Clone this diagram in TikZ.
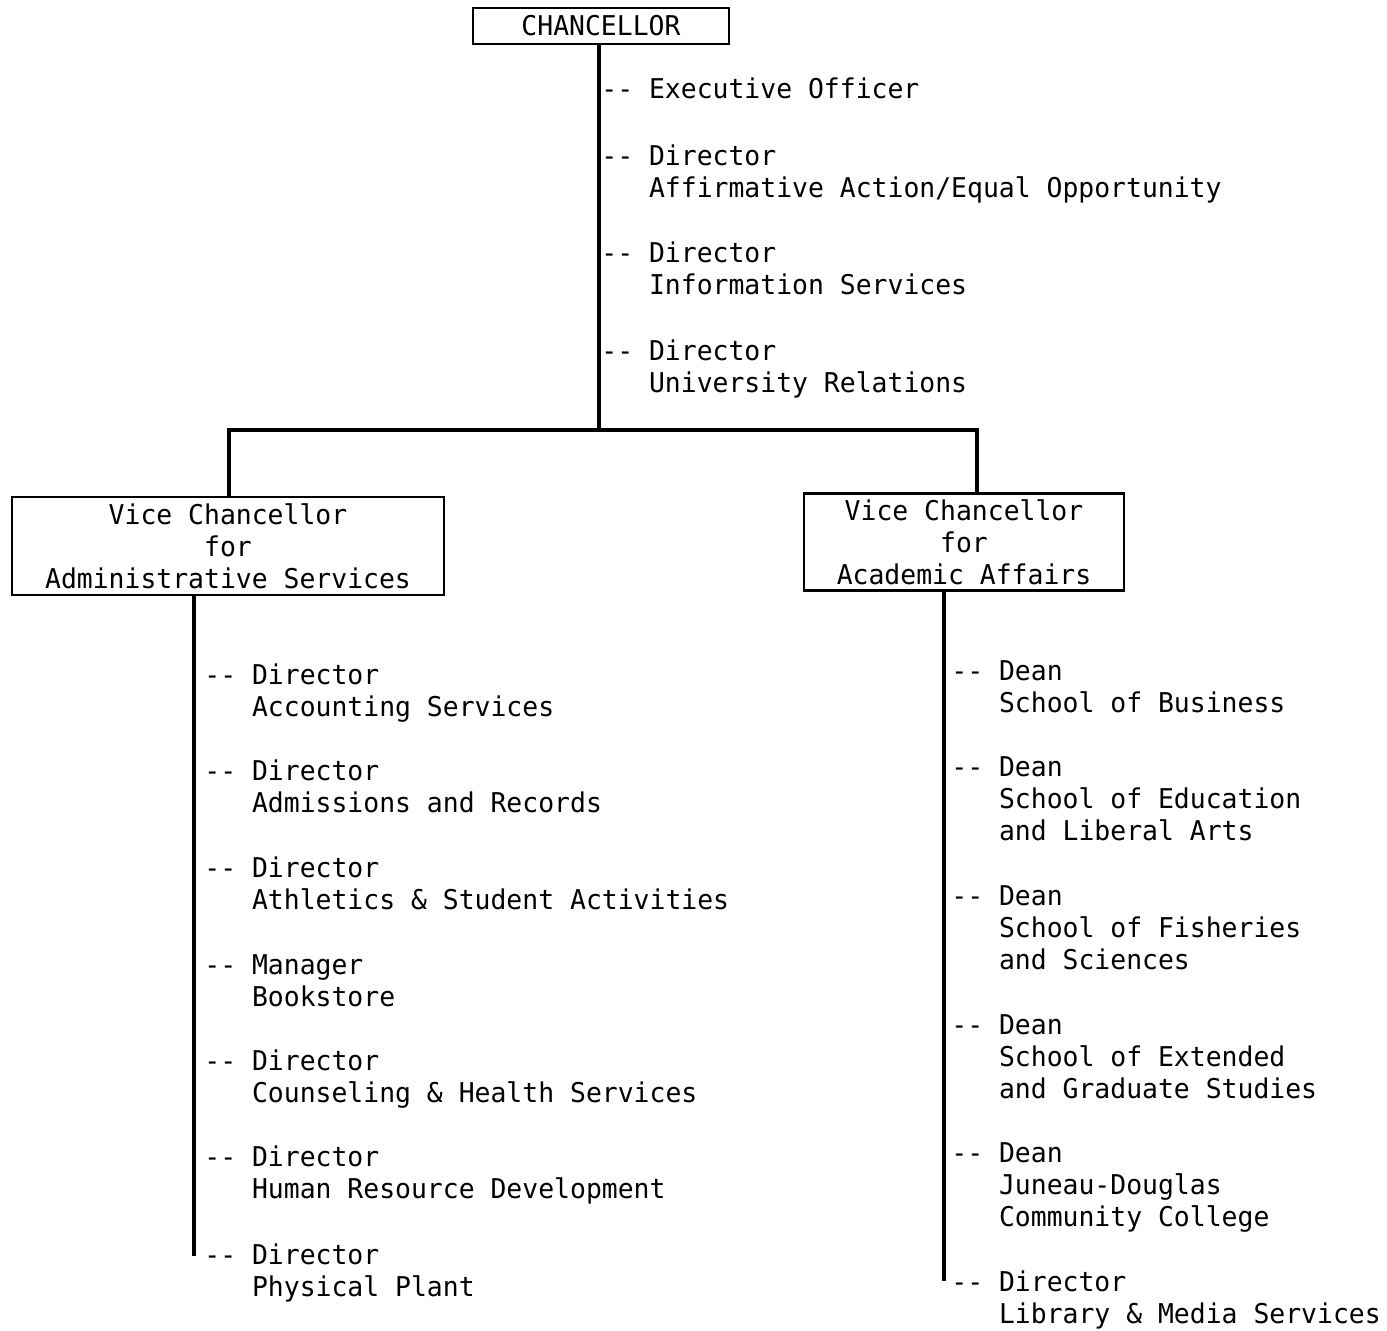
\documentclass[tikz,border=0pt]{standalone}
\usepackage{fontspec}
\newfontfamily\typefont[FakeStretch=0.97]{DejaVu Sans Mono}
\usetikzlibrary{positioning}
\newcommand{\orgsize}{\fontsize{15.5pt}{18.2pt}\selectfont}
\newcommand{\indnt}{\hphantom{--\ }}
\tikzset{
  % Office box (thin frame)
  offbox/.style={rectangle,draw,line width=1.2pt,
    align=center,inner sep=0pt,font=\typefont\orgsize},
  % Entry hanging off a line (placed by its last baseline)
  entry/.style={anchor=base west,inner sep=0pt,
    align=left,font=\typefont\orgsize},
  % Heavy connecting line
  trunk/.style={line width=2.6pt},
}

\begin{document}
\begin{tikzpicture}[x=0.02cm,y=-0.02cm]
  \useasboundingbox (0,0) rectangle (1387,1330);

  \node[offbox,minimum width=5.12cm,minimum height=0.72cm] (chan) at (601,26) {CHANCELLOR};
  \node[offbox,minimum width=8.64cm,minimum height=1.96cm] (vcadmin) at (228,546)
    {Vice Chancellor\\for\\Administrative Services};
  \node[offbox,minimum width=6.4cm,minimum height=1.94cm] (vcacad) at (964,542)
    {Vice Chancellor\\for\\Academic Affairs};

  % Chancellor's staff
  \node[entry] (exo) at (601,98) {-- Executive Officer};
  \node[entry] (aaeo) at (601,197) {-- Director\\\indnt Affirmative Action/Equal Opportunity};
  \node[entry] (info) at (601,294) {-- Director\\\indnt Information Services};
  \node[entry] (urel) at (601,392) {-- Director\\\indnt University Relations};

  % Administrative Services
  \node[entry] (acct) at (204,716) {-- Director\\\indnt Accounting Services};
  \node[entry] (adms) at (204,812) {-- Director\\\indnt Admissions and Records};
  \node[entry] (athl) at (204,909) {-- Director\\\indnt Athletics \& Student Activities};
  \node[entry] (book) at (204,1006) {-- Manager\\\indnt Bookstore};
  \node[entry] (couns) at (204,1102) {-- Director\\\indnt Counseling \& Health Services};
  \node[entry] (hrd) at (204,1198) {-- Director\\\indnt Human Resource Development};
  \node[entry] (plant) at (204,1296) {-- Director\\\indnt Physical Plant};

  % Academic Affairs
  \node[entry] (bus) at (951,712) {-- Dean\\\indnt School of Business};
  \node[entry] (educ) at (951,840) {-- Dean\\\indnt School of Education\\\indnt and Liberal Arts};
  \node[entry] (fish) at (951,969) {-- Dean\\\indnt School of Fisheries\\\indnt and Sciences};
  \node[entry] (ext) at (951,1098) {-- Dean\\\indnt School of Extended\\\indnt and Graduate Studies};
  \node[entry] (jdcc) at (951,1226) {-- Dean\\\indnt Juneau-Douglas\\\indnt Community College};
  \node[entry] (lib) at (951,1323) {-- Director\\\indnt Library \& Media Services};

  \coordinate (split) at (599,430);
  \coordinate (lbar) at (229,430);
  \coordinate (rbar) at (977,430);
  \coordinate (lspine) at (194,1256);
  \coordinate (rspine) at (944,1281);

  \draw[trunk] (chan.south -| split) -- (split);
  \draw[trunk] (lbar |- vcadmin.north) -- (lbar) -- (rbar) -- (rbar |- vcacad.north);
  \draw[trunk] (lspine |- vcadmin.south) -- (lspine);
  \draw[trunk] (rspine |- vcacad.south) -- (rspine);
\end{tikzpicture}
\end{document}
